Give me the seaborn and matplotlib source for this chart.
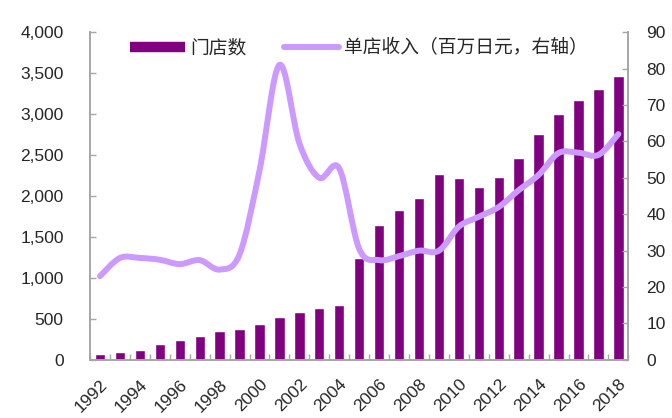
import numpy as np
import pandas as pd
import matplotlib
matplotlib.use('Agg')
import matplotlib.pyplot as plt
from matplotlib.path import Path
from matplotlib.patches import PathPatch
from matplotlib.lines import Line2D
from matplotlib.ticker import FixedLocator, FuncFormatter
import seaborn as sns

# data
years = list(range(1992, 2019))
stores = [75, 95, 125, 190, 240, 290, 350, 380, 440, 520, 585, 635, 670,
          1240, 1645, 1835, 1975, 2265, 2220, 2105, 2235, 2460, 2760, 3000,
          3175, 3305, 3465]
revenue = [23.0, 28.0, 28.0, 27.5, 26.3, 27.4, 24.8, 29.0, 52.0, 81.0, 59.5,
           50.0, 52.6, 30.5, 27.4, 28.5, 30.0, 30.0, 36.6, 39.3, 42.0, 46.6,
           50.8, 56.8, 56.9, 56.3, 62.0]
bar_label = '门店数'
line_label = '单店收入（百万日元，右轴）'

bar_color = '#800080'
line_color = '#CC99FF'
spine_color = '#A6A6A6'

sns.set_style('white')
plt.rcParams['font.family'] = ['Liberation Sans', 'Noto Sans CJK SC']

df = pd.DataFrame({'year': [str(y) for y in years], 'stores': stores, 'revenue': revenue})

fig = plt.figure(figsize=(6.72, 4.18), dpi=100)
ax = fig.add_axes([0.134, 0.139, 0.801, 0.784])
sns.barplot(data=df, x='year', y='stores', color=bar_color, width=0.52,
            saturation=1, ax=ax)
ax.set_xlim(-0.5, len(years) - 0.5)
ax.set_ylim(0, 4000)
ax.set_yticks(np.arange(0, 4001, 500))
ax.yaxis.set_major_formatter(FuncFormatter(lambda v, p: f'{int(v):,}'))
ax.set_xlabel('')
ax.set_ylabel('')

ax2 = ax.twinx()
ax2.set_ylim(0, 90)
ax2.set_yticks(np.arange(0, 91, 10))

# smoothed line (Bezier through the data points, like Excel's smoothing)
xs = np.arange(len(revenue), dtype=float)
ys = np.array(revenue)
verts = [(xs[0], ys[0])]
codes = [Path.MOVETO]
n = len(xs)
for i in range(n - 1):
    p0 = np.array([xs[max(i - 1, 0)], ys[max(i - 1, 0)]])
    p1 = np.array([xs[i], ys[i]])
    p2 = np.array([xs[i + 1], ys[i + 1]])
    p3 = np.array([xs[min(i + 2, n - 1)], ys[min(i + 2, n - 1)]])
    c1 = p1 + (p2 - p0) / 6
    c2 = p2 - (p3 - p1) / 6
    verts += [tuple(c1), tuple(c2), tuple(p2)]
    codes += [Path.CURVE4] * 3
ax2.add_patch(PathPatch(Path(verts, codes), facecolor='none', edgecolor=line_color,
                        lw=4.3, capstyle='round', joinstyle='round'))

# axes styling
for a in (ax, ax2):
    a.spines['top'].set_visible(False)
    for s in ('left', 'right', 'bottom'):
        a.spines[s].set_color(spine_color)
        a.spines[s].set_linewidth(1.2)

ax.tick_params(axis='y', direction='in', length=4.5, width=1, color=spine_color,
               labelsize=12.5, pad=19, left=True)
ax2.tick_params(axis='y', direction='in', length=4.5, width=1, color=spine_color,
                labelsize=12.5, pad=13, right=True)

ax.xaxis.set_major_locator(FixedLocator(np.arange(0, len(years), 2)))
ax.set_xticklabels([str(y) for y in years[::2]], rotation=45, ha='right',
                   rotation_mode='anchor')
ax.xaxis.set_minor_locator(FixedLocator(np.arange(-0.5, len(years), 1)))
ax.tick_params(axis='x', which='major', length=0, labelsize=12.5, pad=12)
ax.tick_params(axis='x', which='minor', direction='in', length=4.5, width=1,
               color=spine_color, bottom=True)

handles = [Line2D([0], [0], color=bar_color, lw=7.5, solid_capstyle='butt'),
           Line2D([0], [0], color=line_color, lw=4.3, solid_capstyle='round')]
ax2.legend(handles, [bar_label, line_label], loc='upper center',
           bbox_to_anchor=(0.5, 1.03), ncol=2, frameon=False, fontsize=13.5,
           handlelength=2.9, handletextpad=0.3, columnspacing=2.0)

fig.savefig('out.png', dpi=100)
